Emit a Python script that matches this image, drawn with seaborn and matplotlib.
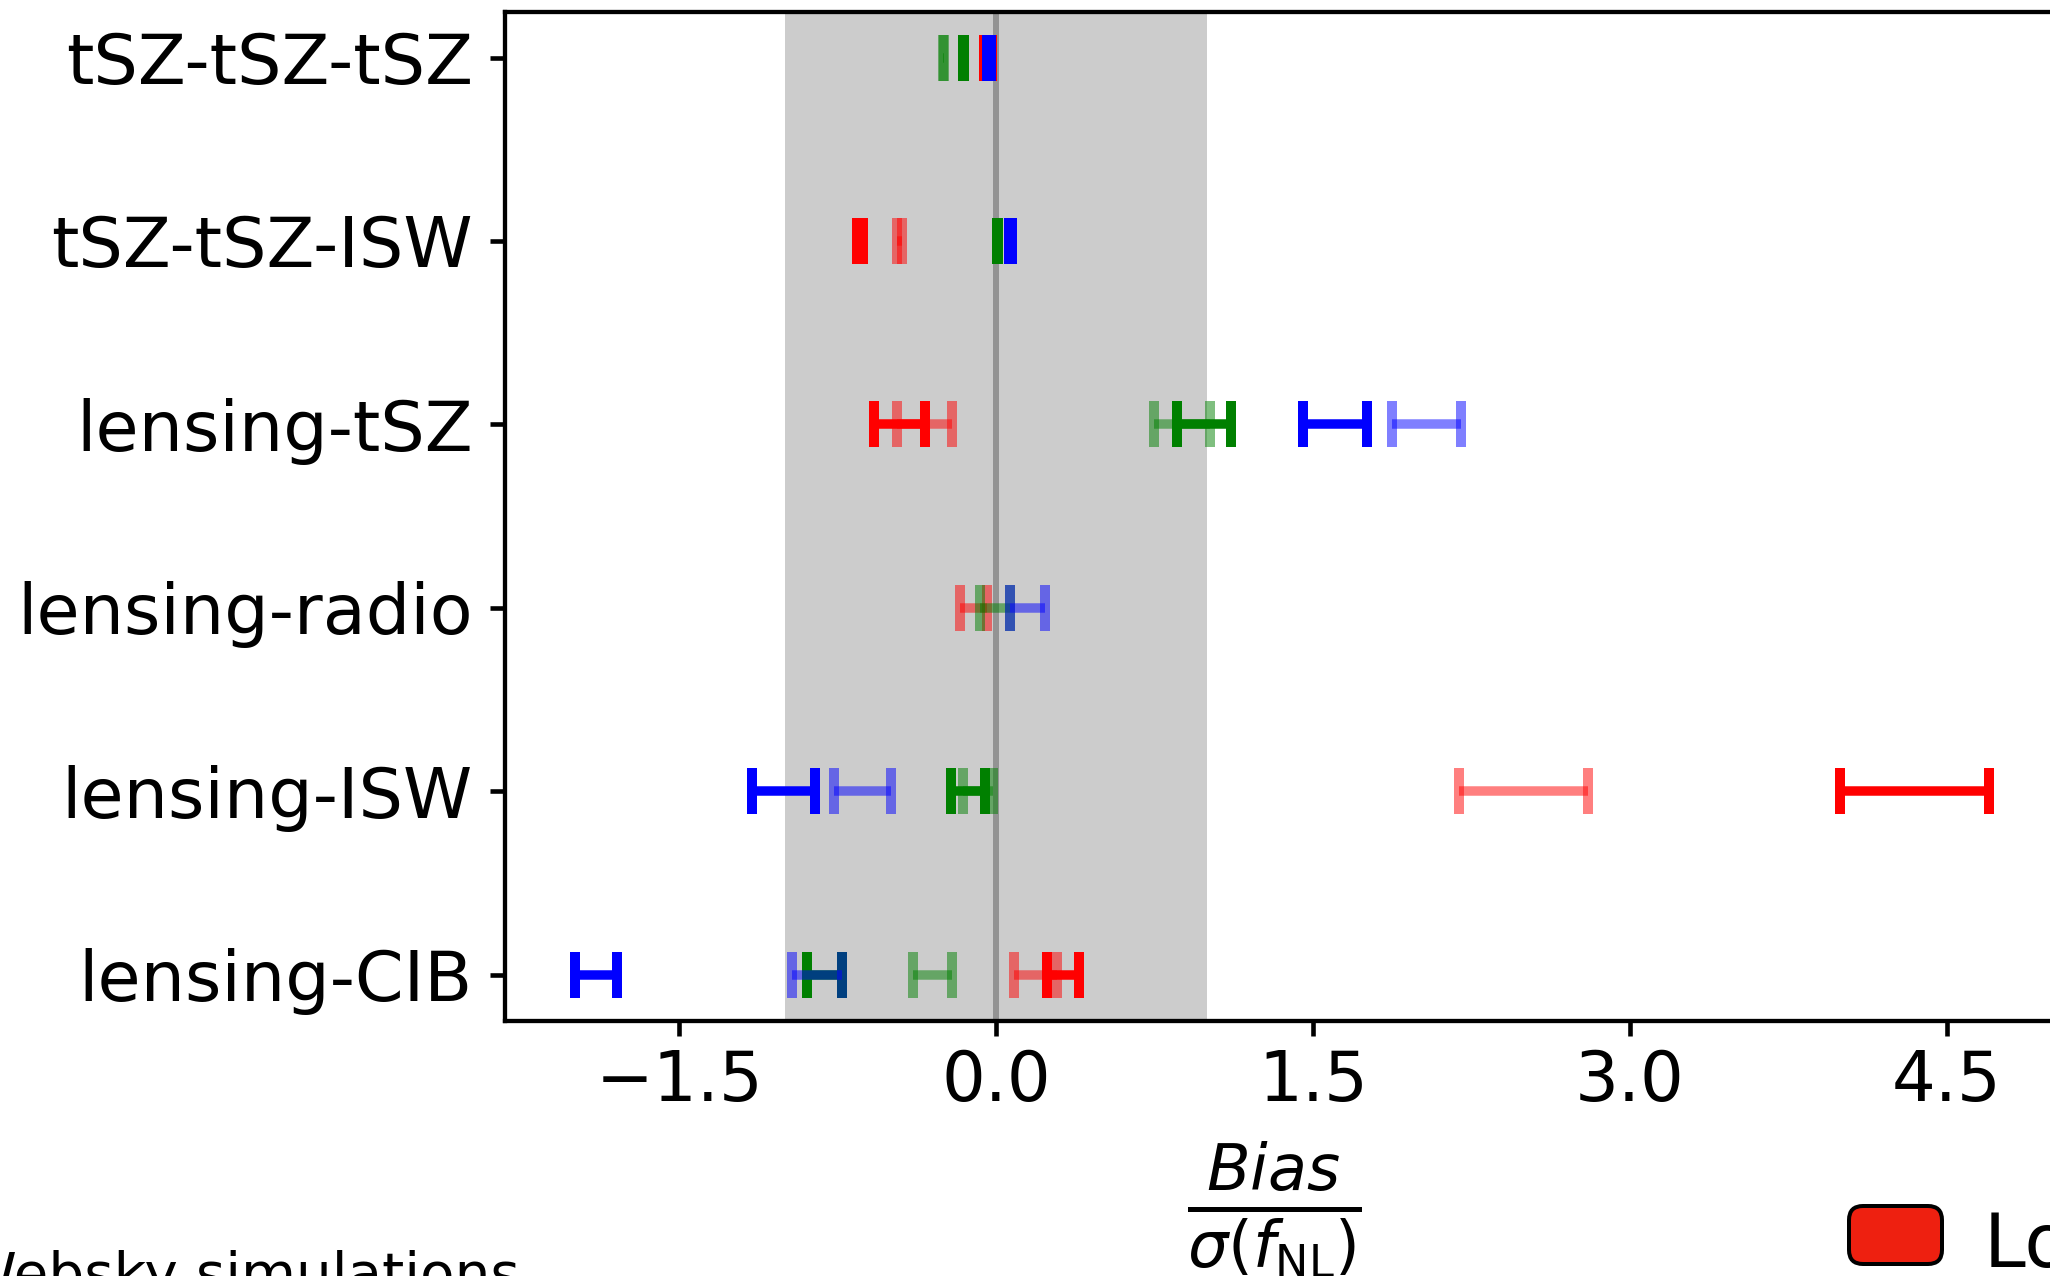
import numpy as np
import matplotlib
matplotlib.use("Agg")
import matplotlib.pyplot as plt
from matplotlib.patches import FancyBboxPatch
from matplotlib.transforms import IdentityTransform
import seaborn as sns

# Bispectrum / trispectrum combinations, top to bottom
categories = ["tSZ-tSZ-tSZ", "tSZ-tSZ-ISW", "lensing-tSZ",
              "lensing-radio", "lensing-ISW", "lensing-CIB"]

nan = np.nan
# Bias / sigma(f_NL): central values and half-widths, first configuration (opaque)
red_solid = [-0.038, -0.644, -0.457, nan, 4.347, 0.316]
red_solid_err = [0.019, 0.014, 0.121, nan, 0.351, 0.074]
green_solid = [-0.156, 0.005, 0.984, nan, -0.133, -0.813]
green_solid_err = [0.002, 0.002, 0.126, nan, 0.079, 0.081]
blue_solid = [-0.033, 0.069, 1.604, nan, -1.007, -1.895]
blue_solid_err = [0.009, 0.007, 0.152, nan, 0.149, 0.098]

# second configuration (translucent)
red_faded = [nan, -0.457, -0.339, -0.107, 2.498, 0.186]
red_faded_err = [nan, 0.012, 0.130, 0.065, 0.306, 0.102]
green_faded = [-0.251, nan, 0.880, -0.005, -0.086, -0.300]
green_faded_err = [0.003, nan, 0.133, 0.070, 0.073, 0.092]
blue_faded = [nan, nan, 2.037, 0.149, -0.631, -0.849]
blue_faded_err = [nan, nan, 0.164, 0.084, 0.135, 0.117]

DPI = 100
PT = 72.0 / DPI  # points per pixel

sns.set_style("ticks")
plt.rcParams["font.family"] = ["DejaVu Sans"]
plt.rcParams["mathtext.fontset"] = "dejavusans"
for key in ("text.color", "axes.labelcolor", "xtick.color", "ytick.color",
            "xtick.labelcolor", "ytick.labelcolor", "axes.edgecolor"):
    plt.rcParams[key] = "black"

fig = plt.figure(figsize=(20.5, 12.76), dpi=DPI)
W, H = 2050.0, 1276.0
ax = fig.add_axes([504.5 / W, 255.5 / H, 1554.7 / W, 1008.8 / H])

ypos = np.arange(len(categories))

ax.axvspan(-1, 1, color="gray", alpha=0.4, lw=0, zorder=0)
ax.axvline(0, color="gray", alpha=0.75, lw=6 * PT, zorder=1)


def draw(vals, errs, color, alpha):
    v = np.asarray(vals, float)
    e = np.asarray(errs, float)
    ok = ~np.isnan(v)
    ax.errorbar(v[ok], ypos[ok], xerr=e[ok], fmt="none", ecolor=color,
                alpha=alpha, elinewidth=9.5 * PT, capthick=10 * PT,
                capsize=23.5 * PT, zorder=3)


draw(red_solid, red_solid_err, "red", 1.0)
draw(green_solid, green_solid_err, "green", 1.0)
draw(blue_solid, blue_solid_err, "blue", 1.0)
draw(red_faded, red_faded_err, "red", 0.5)
draw(green_faded, green_faded_err, "green", 0.5)
draw(blue_faded, blue_faded_err, "blue", 0.5)

ax.margins(x=0.05, y=0.05)
ax.autoscale_view()
ax.invert_yaxis()

ax.set_yticks(ypos)
ax.set_yticklabels(categories)
ax.set_xticks([-1.5, 0.0, 1.5, 3.0, 4.5])
ax.set_xticklabels(["\u22121.5", "0.0", "1.5", "3.0", "4.5"])

ax.tick_params(axis="both", length=14.7 * PT, width=4.6 * PT,
               color="black", labelcolor="black")
ax.tick_params(axis="x", labelsize=69 * PT, pad=13 * PT)
ax.tick_params(axis="y", labelsize=70 * PT, pad=17 * PT)
for sp in ax.spines.values():
    sp.set_linewidth(4.3 * PT)
    sp.set_color("black")

ax.set_xlabel(r"$\frac{Bias}{\sigma(f_{\rm NL})}$", fontsize=91 * PT,
              color="black")
ax.xaxis.set_label_coords((1274.5 - 504.5) / 1554.7, -0.118)

# Caption of the simulation set, running off the lower left
fig.text(520 / W, -16 / H, "Websky simulations", fontsize=56.5 * PT,
         ha="right", va="baseline", color="black")

# Legend entry at the lower right
box = FancyBboxPatch((1849, 12), 93, 58,
                     boxstyle="round,pad=0,rounding_size=14",
                     facecolor="#ee2010", edgecolor="black",
                     linewidth=4 * PT, transform=IdentityTransform())
fig.patches.append(box)
fig.text(1984 / W, 9 / H, "Low noise", fontsize=75 * PT,
         ha="left", va="baseline", color="black")

fig.savefig("out.png", dpi=DPI)
